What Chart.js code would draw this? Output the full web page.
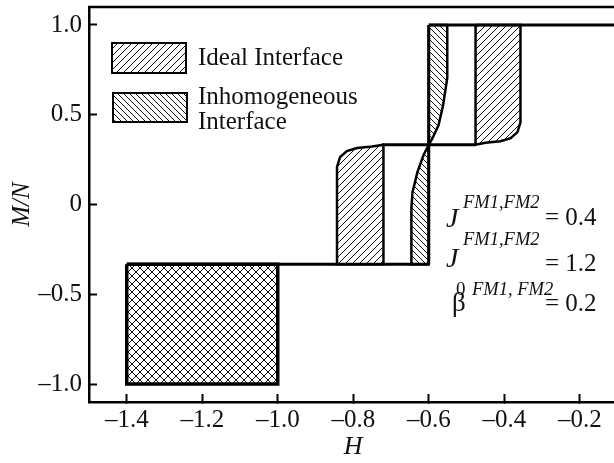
<!DOCTYPE html>
<html>
<head>
<meta charset="utf-8">
<script src="https://cdn.jsdelivr.net/npm/chart.js@4.4.0/dist/chart.umd.min.js"></script>
<style>
  html, body { margin: 0; padding: 0; background: #fff; overflow: hidden; }
  #wrap { position: absolute; left: 0; top: 0; width: 620px; height: 463px; }
</style>
</head>
<body>
<div id="wrap"><canvas id="chartCanvas"></canvas></div>
<script>
// axis ticks
const xTicks = [-1.4, -1.2, -1.0, -0.8, -0.6, -0.4, -0.2];
const yTicks = [-1.0, -0.5, 0, 0.5, 1.0];

// main loop outline (H, M/N)
const lowLineH = [-1.4, -0.6];
const lowLineM = [-0.333, -0.333];
const jumpH = [-0.6, -0.6];
const jumpM = [-0.333, 1.0];
const topLineH = [-0.6, -0.1];
const topLineM = [1.0, 1.0];
const plateauH = [-0.724, -0.476];
const plateauM = [0.333, 0.333];

// cross-hatched box
const boxH = [-1.4, -1.0, -1.0, -1.4, -1.4];
const boxM = [-0.333, -0.333, -1.0, -1.0, -0.333];

// ideal interface regions
const idealUpH = [-0.476, -0.357, -0.357, -0.365, -0.383, -0.41, -0.45, -0.476, -0.476];
const idealUpM = [1.0, 1.0, 0.458, 0.403, 0.369, 0.352, 0.344, 0.333, 1.0];
const idealLowH = [-0.72, -0.72, -0.843, -0.843, -0.835, -0.817, -0.79, -0.75, -0.72];
const idealLowM = [0.333, -0.333, -0.333, 0.209, 0.264, 0.298, 0.315, 0.323, 0.333];

// inhomogeneous interface regions
const inhomUpH = [-0.6, -0.551, -0.551, -0.562, -0.574, -0.59, -0.6, -0.6];
const inhomUpM = [1.0, 1.0, 0.704, 0.553, 0.442, 0.369, 0.333, 1.0];
const inhomLowH = [-0.6, -0.614, -0.63, -0.643, -0.646, -0.646, -0.6, -0.6];
const inhomLowM = [0.333, 0.274, 0.18, 0.068, -0.021, -0.333, -0.333, 0.333];

const FONT = "'Liberation Serif', 'Times New Roman', serif";

function pts(hs, ms) {
    return hs.map((h, i) => ({ x: h, y: ms[i] }));
}

// small tiles for the hatching
function hatch(dirs, size) {
    const c = document.createElement('canvas');
    c.width = size;
    c.height = size;
    const g = c.getContext('2d');
    g.fillStyle = '#fff';
    g.fillRect(0, 0, size, size);
    g.strokeStyle = '#111';
    g.lineWidth = 1;
    g.beginPath();
    if (dirs.indexOf('/') >= 0) {
        g.moveTo(-1, 1); g.lineTo(1, -1);
        g.moveTo(0, size); g.lineTo(size, 0);
        g.moveTo(size - 1, size + 1); g.lineTo(size + 1, size - 1);
    }
    if (dirs.indexOf('\\') >= 0) {
        g.moveTo(0, 0); g.lineTo(size, size);
        g.moveTo(-1, size - 1); g.lineTo(1, size + 1);
        g.moveTo(size - 1, -1); g.lineTo(size + 1, 1);
    }
    g.stroke();
    return g.createPattern(c, 'repeat');
}

const ctx = document.getElementById('chartCanvas').getContext('2d');
const idealFill = hatch('/', 7);
const inhomFill = hatch('\\', 6);
const crossFill = hatch('/\\', 8);

function region(hs, ms, fill, width) {
    return {
        data: pts(hs, ms),
        showLine: true,
        fill: 'shape',
        backgroundColor: fill,
        borderColor: '#000',
        borderWidth: width,
        pointRadius: 0,
        tension: 0
    };
}

function line(hs, ms, width) {
    return {
        data: pts(hs, ms),
        showLine: true,
        fill: false,
        borderColor: '#000',
        borderWidth: width,
        pointRadius: 0,
        tension: 0
    };
}

const extras = {
    id: 'extras',
    afterDraw(chart) {
        const c = chart.ctx;
        const a = chart.chartArea;
        c.save();
        // top frame
        c.strokeStyle = '#000';
        c.lineWidth = 2.5;
        c.beginPath();
        c.moveTo(a.left - 1, a.top);
        c.lineTo(chart.width, a.top);
        c.stroke();

        // legend
        c.lineWidth = 2;
        c.fillStyle = idealFill;
        c.fillRect(112, 43, 74, 30);
        c.strokeRect(112, 43, 74, 30);
        c.fillStyle = inhomFill;
        c.fillRect(113, 93, 74, 29);
        c.strokeRect(113, 93, 74, 29);

        c.fillStyle = '#111';
        c.textBaseline = 'alphabetic';
        c.textAlign = 'left';
        c.font = '25px ' + FONT;
        c.fillText('Ideal Interface', 198, 65);
        c.fillText('Inhomogeneous', 198, 104);
        c.fillText('Interface', 198, 129);

        // parameters
        const it = 'italic ';
        c.font = it + '28px ' + FONT;
        c.fillText('J', 446, 227);
        c.font = it + '18.5px ' + FONT;
        c.fillText('FM1,FM2', 463, 208);
        c.font = '25px ' + FONT;
        c.fillText('= 0.4', 545, 225);

        c.font = it + '28px ' + FONT;
        c.fillText('J', 446, 267);
        c.font = it + '18.5px ' + FONT;
        c.fillText('FM1,FM2', 463, 245);
        c.font = '19px ' + FONT;
        c.fillText('0', 456, 295);
        c.font = '25px ' + FONT;
        c.fillText('= 1.2', 545, 271);

        c.font = '27px ' + FONT;
        c.fillText('\u03b2', 452, 311);
        c.font = it + '18.5px ' + FONT;
        c.fillText('FM1, FM2', 472, 295);
        c.font = '25px ' + FONT;
        c.fillText('= 0.2', 545, 311);
        c.restore();
    }
};

function fmt(v) {
    if (Math.abs(v) < 1e-9) return '0';
    return (v < 0 ? '\u2013' : '') + Math.abs(v).toFixed(1);
}

new Chart(ctx, {
    type: 'scatter',
    data: {
        datasets: [
            line(lowLineH, lowLineM, 3),
            line(jumpH, jumpM, 3),
            line(topLineH, topLineM, 3),
            line(plateauH, plateauM, 3),
            region(boxH, boxM, crossFill, 3.5),
            region(idealUpH, idealUpM, idealFill, 2.5),
            region(idealLowH, idealLowM, idealFill, 2.5),
            region(inhomUpH, inhomUpM, inhomFill, 2.5),
            region(inhomLowH, inhomLowM, inhomFill, 2.5)
        ]
    },
    options: {
        responsive: true,
        maintainAspectRatio: false,
        animation: false,
        layout: { padding: { top: 7, right: 2.5, left: 0, bottom: 0 } },
        plugins: {
            legend: { display: false },
            tooltip: { enabled: false }
        },
        scales: {
            x: {
                type: 'linear',
                min: -1.5,
                max: -0.1,
                afterBuildTicks: s => { s.ticks = xTicks.map(v => ({ value: v })); },
                afterFit: s => { s.height = 61; s.paddingLeft = 0; s.paddingRight = 0; },
                border: { display: true, color: '#000', width: 2.5 },
                grid: { drawOnChartArea: false, drawTicks: true, tickLength: -8, tickWidth: 2, color: '#000' },
                ticks: {
                    autoSkip: false,
                    maxRotation: 0,
                    padding: 11,
                    color: '#111',
                    font: { family: FONT, size: 25 },
                    callback: v => fmt(v)
                },
                title: {
                    display: true,
                    text: 'H',
                    color: '#111',
                    padding: { top: 0, bottom: 0 },
                    font: { family: FONT, size: 26, style: 'italic' }
                }
            },
            y: {
                type: 'linear',
                min: -1.1,
                max: 1.1,
                afterBuildTicks: s => { s.ticks = yTicks.map(v => ({ value: v })); },
                afterFit: s => { s.width = 89; s.paddingTop = 0; s.paddingBottom = 0; },
                border: { display: true, color: '#000', width: 2.5 },
                grid: { drawOnChartArea: false, drawTicks: true, tickLength: -8, tickWidth: 2, color: '#000' },
                ticks: {
                    padding: 15,
                    color: '#111',
                    font: { family: FONT, size: 25 },
                    callback: v => fmt(v)
                },
                title: {
                    display: true,
                    text: 'M/N',
                    color: '#111',
                    padding: { top: 7, bottom: 0 },
                    font: { family: FONT, size: 25, style: 'italic' }
                }
            }
        }
    },
    plugins: [extras]
});
</script>
</body>
</html>
